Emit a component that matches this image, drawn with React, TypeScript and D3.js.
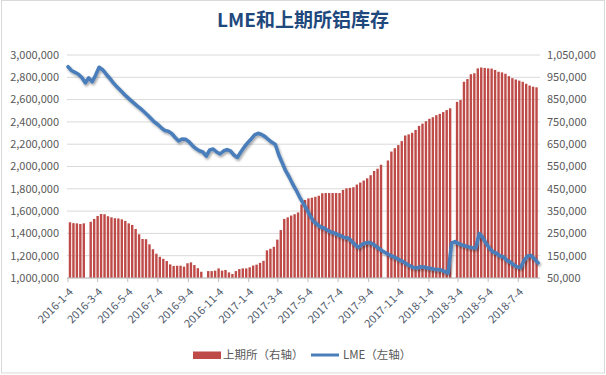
import React from "react";
import * as d3 from "d3";

// SHFE aluminium weekly stocks (right axis), weekly from 2016-01-08, null = no report (holiday)
const shfeStart = "2016-01-08";
const shfeStock: (number | null)[] = [
  300000, 296000, 295000, 292000, 295000, null,
  302000, 315000, 328000, 337000, 336000, 327000, 322000, 318000, 317000, 313000,
  306000, 295000, 288000, 270000, 246000, 225000, 224000, 201000, 179000, 159000,
  145000, 136000, 126000, 111000, 104000, 105000, 105000, 101000, 116000, 120000, 108000, 94000, 78000,
  null,
  81000, 81000, 83000, 93000, 83000, 86000, 75000, 68000, 81000, 90000, 93000, 93000, 98000, 106000, 110000,
  118000, 127000,
  174000, 181000, 190000, 222000, 265000, 315000, 322000, 330000, 336000, 344000,
  380000, 400000, 407000, 410000, 414000, 419000, 430000, 431000, 431000, 431000, 431000, 431000,
  445000, 452000, 454000, 457000, 469000, 478000, 487000, 497000, 511000, 530000, 540000, 558000,
  null,
  577000, 617000, 632000, 646000, 664000, 689000, 694000, 701000, 714000, 732000, 742000, 753000, 764000,
  771000, 780000, 786000, 794000, 803000, 811000,
  null,
  840000, 848000, 930000, 942000, 964000, 968000, 990000, 994000, 992000, 990000, 989000, 983000,
  975000, 972000, 966000, 955000, 946000, 940000, 935000, 930000, 921000, 913000, 908000, 905000,
];

// LME aluminium stocks (left axis), weekly from 2016-01-04
const lmeStart = "2016-01-04";
const lmeStock: number[] = [
  2895000, 2861000, 2845000, 2827000, 2798000, 2750000, 2795000, 2760000, 2820000, 2890000,
  2868000, 2830000, 2794000, 2755000, 2719000, 2688000, 2656000, 2626000, 2598000, 2571000,
  2544000, 2519000, 2491000, 2462000, 2430000, 2399000, 2377000, 2347000, 2323000, 2317000,
  2296000, 2260000, 2229000, 2247000, 2244000, 2222000, 2188000, 2161000, 2141000, 2130000,
  2094000, 2148000, 2157000, 2130000, 2112000, 2139000, 2152000, 2139000, 2103000, 2081000,
  2130000, 2175000, 2213000, 2247000, 2283000, 2298000, 2287000, 2268000, 2242000, 2217000,
  2197000, 2103000, 2031000, 1960000, 1906000, 1843000, 1789000, 1726000, 1673000, 1619000,
  1561000, 1511000, 1484000, 1460000, 1448000, 1430000, 1414000, 1404000, 1390000, 1377000,
  1363000, 1359000, 1332000, 1300000, 1274000, 1300000, 1314000, 1318000, 1309000, 1287000,
  1265000, 1242000, 1224000, 1206000, 1193000, 1178000, 1161000, 1146000, 1126000, 1108000,
  1094000, 1090000, 1101000, 1099000, 1090000, 1085000, 1078000, 1076000, 1072000, 1058000,
  1045000, 1314000, 1326000, 1309000, 1296000, 1287000, 1278000, 1271000, 1269000, 1399000,
  1363000, 1309000, 1265000, 1233000, 1222000, 1197000, 1191000, 1157000, 1143000, 1117000,
  1099000, 1094000, 1161000, 1197000, 1202000, 1170000, 1135000,
];

const xTickLabels = [
  "2016-1-4", "2016-3-4", "2016-5-4", "2016-7-4", "2016-9-4", "2016-11-4",
  "2017-1-4", "2017-3-4", "2017-5-4", "2017-7-4", "2017-9-4", "2017-11-4",
  "2018-1-4", "2018-3-4", "2018-5-4", "2018-7-4",
];
const leftTicks = [1000000, 1200000, 1400000, 1600000, 1800000, 2000000, 2200000, 2400000, 2600000, 2800000, 3000000];
const rightTicks = [50000, 150000, 250000, 350000, 450000, 550000, 650000, 750000, 850000, 950000, 1050000];

const title = "LME和上期所铝库存";
const legendShfe = "上期所（右轴）";
const legendLme = "LME（左轴）";

const parseD = (s: string) => {
  const [y, m, d] = s.split("-").map(Number);
  return new Date(y, m - 1, d);
};

export default function App() {
  const W = 606, H = 375;
  const left = 67, right = 540, top = 55, bottom = 278;
  const font = "'Noto Sans CJK SC', 'Noto Sans', sans-serif";

  const x = d3.scaleTime().domain([parseD("2016-1-4"), parseD("2018-8-17")]).range([68, right]);
  const yL = d3.scaleLinear().domain([1000000, 3000000]).range([bottom, top]);
  const yR = d3.scaleLinear().domain([50000, 1050000]).range([bottom, top]);
  const fmt = d3.format(",");

  const s0 = parseD(shfeStart);
  const l0 = parseD(lmeStart);
  const bars = shfeStock.map((v, i) => ({ d: d3.timeDay.offset(s0, 7 * i), v }));
  const pts = lmeStock.map((v, i) => ({ d: d3.timeDay.offset(l0, 7 * i), v }));
  const line = d3.line<{ d: Date; v: number }>().x(p => x(p.d)).y(p => yL(p.v)).curve(d3.curveLinear);
  const bw = 2.4;

  return (
    <svg width={W} height={H} style={{ position: "absolute", left: 0, top: 0, background: "#fff" }} fontFamily={font}>
      <defs>
        <filter id="sh" x="-5%" y="-5%" width="110%" height="120%">
          <feDropShadow dx="1.2" dy="1.8" stdDeviation="1.1" floodColor="#000" floodOpacity="0.35" />
        </filter>
      </defs>
      <rect x={1.5} y={0.5} width={603} height={372.5} fill="#fff" stroke="#D9D9D9" />
      <text x={W / 2} y={27} textAnchor="middle" fontSize={19} fontWeight="bold" fill="#1F497D">{title}</text>

      {leftTicks.map(t => (
        <line key={"g" + t} x1={left} x2={right} y1={yL(t)} y2={yL(t)} stroke="#D9D9D9" strokeWidth={1} />
      ))}

      {bars.filter(b => b.v != null).map((b, i) => (
        <rect key={"b" + i} x={x(b.d) - bw / 2} y={yR(b.v as number)} width={bw} height={bottom - yR(b.v as number)} fill="#BE4B48" />
      ))}

      <line x1={left} x2={right} y1={bottom} y2={bottom} stroke="#BFBFBF" />
      {xTickLabels.map(s => {
        const tx = x(parseD(s));
        return (
          <g key={s}>
            <line x1={tx} x2={tx} y1={bottom} y2={bottom + 4} stroke="#BFBFBF" />
            <text transform={`translate(${tx + 3},${bottom + 12}) rotate(-45)`} textAnchor="end" fontSize={11} fill="#505A6B" dy="0.35em">{s}</text>
          </g>
        );
      })}

      <path d={line(pts) || ""} fill="none" stroke="#4A7EBB" strokeWidth={3.6} strokeLinejoin="round" strokeLinecap="round" filter="url(#sh)" />

      {leftTicks.map(t => (
        <text key={"l" + t} x={59} y={yL(t)} dy="0.35em" textAnchor="end" fontSize={11} fill="#595959">{fmt(t)}</text>
      ))}
      {rightTicks.map(t => (
        <text key={"r" + t} x={547} y={yR(t)} dy="0.35em" textAnchor="start" fontSize={11} fill="#595959">{fmt(t)}</text>
      ))}

      <rect x={193} y={351.5} width={28} height={7.5} fill="#BE4B48" />
      <text x={223} y={355} dy="0.35em" fontSize={11.5} fill="#595959">{legendShfe}</text>
      <line x1={311} x2={339} y1={355} y2={355} stroke="#4A7EBB" strokeWidth={3} />
      <text x={343} y={355} dy="0.35em" fontSize={11.5} fill="#595959">{legendLme}</text>
    </svg>
  );
}
